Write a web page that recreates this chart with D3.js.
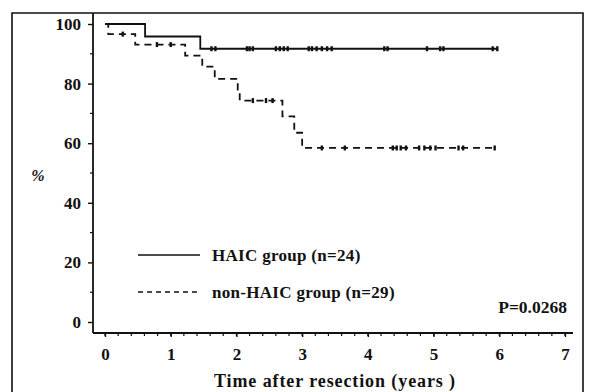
<!DOCTYPE html>
<html lang="en">
<head>
    <meta charset="UTF-8">
    <title>Survival after resection</title>
    <script src="https://d3js.org/d3.v7.min.js"></script>
    <style>
        body { margin: 0; background: #fff; }
    </style>
</head>
<body>
<div id="chart"></div>
<script>
    // Kaplan-Meier steps: [time in years, survival %]
    var haicSteps = [[0, 100], [0.61, 95.8], [1.45, 91.7]];
    var haicEnd = 5.98;
    var haicCensored = [1.62, 1.68, 2.16, 2.2, 2.25, 2.6, 2.66, 2.72, 2.78, 3.1, 3.15, 3.22,
        3.3, 3.38, 3.45, 4.25, 4.3, 4.9, 5.1, 5.15, 5.9, 5.97];

    var nonSteps = [[0, 100], [0.05, 96.6], [0.46, 93.1], [1.22, 89.4], [1.48, 85.7], [1.67, 81.6],
        [2.02, 78.0], [2.05, 74.3], [2.7, 69.0], [2.88, 63.5], [3.0, 58.4]];
    var nonEnd = 5.93;
    var nonCensored = [0.27, 0.79, 1.0, 2.25, 2.45, 2.55, 3.3, 3.65, 4.38, 4.44, 4.5, 4.58,
        4.78, 4.86, 4.95, 5.03, 5.38, 5.45, 5.93];

    var xTicks = [0, 1, 2, 3, 4, 5, 6, 7];
    var yTicks = [0, 20, 40, 60, 80, 100];
    var legendLabels = ["HAIC group (n=24)", "non-HAIC group (n=29)"];
    var pValue = "P=0.0268";

    var W = 589, H = 392;
    var svg = d3.select("#chart").append("svg")
        .attr("width", W).attr("height", H);

    var x = d3.scaleLinear().domain([0, 7]).range([105, 565]);
    var y = d3.scaleLinear().domain([0, 100]).range([322, 24]);
    var axisLeft = 93, axisBottom = 333, plotTop = 13, axisRight = 573;

    function serifText(sel, size) {
        sel.attr("font-family", null)
            .style("font-family", "'Liberation Serif'").style("font-weight", "bold")
            .style("font-size", size + "px").attr("fill", "#111");
    }

    // outer frame
    svg.append("path")
        .attr("d", "M12," + (H + 2) + "V" + plotTop + "H583V" + (H + 2))
        .attr("fill", "none").attr("stroke", "#111").attr("stroke-width", 1.6);

    // y axis
    var gy = svg.append("g").attr("transform", "translate(" + axisLeft + ",0)");
    gy.append("line").attr("y1", plotTop).attr("y2", axisBottom)
        .attr("stroke", "#111").attr("stroke-width", 1.8);
    gy.selectAll(".minor").data(d3.range(10, 100, 20)).enter().append("line")
        .attr("x1", -3).attr("x2", 0)
        .attr("y1", function(d) { return y(d); }).attr("y2", function(d) { return y(d); })
        .attr("stroke", "#111").attr("stroke-width", 1.2);
    gy.call(d3.axisLeft(y).tickValues(yTicks).tickSize(5).tickPadding(7));
    gy.attr("font-family", null);
    gy.select(".domain").remove();
    gy.selectAll(".tick line").attr("stroke", "#111").attr("stroke-width", 1.4);
    serifText(gy.selectAll(".tick text"), 17);

    // x axis
    var gx = svg.append("g").attr("transform", "translate(0," + axisBottom + ")");
    gx.append("line").attr("x1", axisLeft).attr("x2", axisRight)
        .attr("stroke", "#111").attr("stroke-width", 1.8);
    gx.selectAll(".minor").data(d3.range(0, 7.01, 0.2)).enter().append("line")
        .attr("x1", function(d) { return x(d); }).attr("x2", function(d) { return x(d); })
        .attr("y1", 0).attr("y2", 3)
        .attr("stroke", "#111").attr("stroke-width", 1.2);
    gx.call(d3.axisBottom(x).tickValues(xTicks).tickSize(4).tickPadding(11).tickFormat(d3.format("d")));
    gx.attr("font-family", null);
    gx.select(".domain").remove();
    gx.selectAll(".tick line").attr("stroke", "#111").attr("stroke-width", 1.4);
    serifText(gx.selectAll(".tick text"), 17);

    // axis titles
    svg.append("text").attr("x", 335).attr("y", 387).attr("text-anchor", "middle")
        .call(serifText, 18).style("letter-spacing", "0.9px").text("Time after resection (years )");
    svg.append("text").attr("x", 38).attr("y", 181).attr("text-anchor", "middle")
        .call(serifText, 16).style("font-style", "italic").text("%");

    // survival curves
    function stepPoints(steps, end) {
        var pts = [];
        steps.forEach(function(s) { pts.push(s); });
        pts.push([end, steps[steps.length - 1][1]]);
        return pts;
    }
    function survAt(steps, t) {
        var v = steps[0][1];
        steps.forEach(function(s) { if (s[0] <= t) v = s[1]; });
        return v;
    }
    var line = d3.line()
        .x(function(d) { return x(d[0]); })
        .y(function(d) { return y(d[1]); })
        .curve(d3.curveStepAfter);

    svg.append("path").datum(stepPoints(haicSteps, haicEnd))
        .attr("d", line).attr("fill", "none")
        .attr("stroke", "#111").attr("stroke-width", 1.8);
    svg.append("path").datum(stepPoints(nonSteps, nonEnd))
        .attr("d", line).attr("fill", "none")
        .attr("stroke", "#111").attr("stroke-width", 1.8)
        .attr("stroke-dasharray", "7,5");

    // censor marks
    function drawCensor(times, steps) {
        svg.append("g").selectAll("line").data(times).enter().append("line")
            .attr("x1", function(d) { return x(d); }).attr("x2", function(d) { return x(d); })
            .attr("y1", function(d) { return y(survAt(steps, d)) - 2.5; })
            .attr("y2", function(d) { return y(survAt(steps, d)) + 2.5; })
            .attr("stroke", "#111").attr("stroke-width", 2.4);
    }
    drawCensor(haicCensored, haicSteps);
    drawCensor(nonCensored, nonSteps);

    // legend
    var legend = svg.append("g");
    legend.selectAll("line").data(legendLabels).enter().append("line")
        .attr("x1", 138).attr("x2", 200)
        .attr("y1", function(d, i) { return 255 + i * 37; })
        .attr("y2", function(d, i) { return 255 + i * 37; })
        .attr("stroke", "#111").attr("stroke-width", 1.6)
        .attr("stroke-dasharray", function(d, i) { return i === 0 ? null : "5,4"; });
    legend.selectAll("text").data(legendLabels).enter().append("text")
        .attr("x", 212).attr("y", function(d, i) { return 261 + i * 37; })
        .call(serifText, 17).style("letter-spacing", "0.3px").text(function(d) { return d; });

    svg.append("text").attr("x", 567).attr("y", 313).attr("text-anchor", "end")
        .call(serifText, 17.5).text(pValue);
</script>
</body>
</html>
